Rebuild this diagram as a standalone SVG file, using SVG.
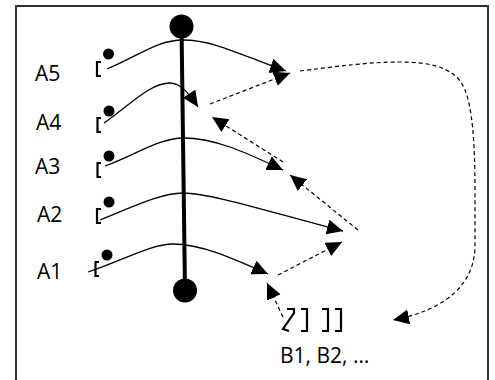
<svg xmlns="http://www.w3.org/2000/svg" width="495" height="380" viewBox="0 0 495 380">
<style>
.lbl{font-family:"Open Sans","Noto Sans","DejaVu Sans",sans-serif;font-size:21px;fill:#000}
.sol{fill:none;stroke:#000;stroke-width:1.3}
.dsh{fill:none;stroke:#000;stroke-width:1.2;stroke-dasharray:4,3}
.br{fill:none;stroke:#000;stroke-width:2.2}
</style>
<defs>
<marker id="ah" markerUnits="userSpaceOnUse" markerWidth="18" markerHeight="16" refX="16" refY="7.5" orient="auto">
<path d="M0,0 L16,7.5 L0,15 z" fill="#000"/>
</marker>
</defs>
<rect width="495" height="380" fill="#fff"/>
<path d="M16,385 V6 H488 V385" fill="none" stroke="#333" stroke-width="2"/>
<g id="axis">
<line x1="181.5" y1="26" x2="185" y2="290" stroke="#000" stroke-width="4"/>
<circle cx="181.5" cy="26.5" r="12" fill="#000"/>
<circle cx="185" cy="290.5" r="12" fill="#000"/>
</g>
<g id="A5"><circle cx="108.5" cy="54" r="5.5"/><path class="br" d="M101,62 H97 V76 H101"/><text class="lbl" x="35" y="81">A5</text></g>
<g id="A4"><circle cx="109" cy="111" r="5.5"/><path class="br" d="M101,118 H97.5 V132 H101"/><text class="lbl" x="36" y="130">A4</text></g>
<g id="A3"><circle cx="109" cy="156" r="5.5"/><path class="br" d="M101,163 H97.5 V177 H101"/><text class="lbl" x="35" y="174">A3</text></g>
<g id="A2"><circle cx="109" cy="202" r="5.5"/><path class="br" d="M101,209 H97 V223 H101"/><text class="lbl" x="37" y="222">A2</text></g>
<g id="A1"><circle cx="107" cy="255" r="5.5"/><path class="br" d="M99,262 H95.5 V276 H99"/><text class="lbl" x="37" y="279">A1</text></g>
<g id="B"><path class="br" d="M287,309 H294 V313 L283,329 L289,331"/><path class="br" d="M301,309 H307 V331 H301"/><path class="br" d="M322,309 H328 V331 H322"/><path class="br" d="M335,309 H341 V331 H335"/><text class="lbl" x="280" y="363">B1, B2, …</text></g>
<g id="connectors">
<path class="sol" marker-end="url(#ah)" d="M107,69 C140,55 158,40 183,40 C215,40 245,57 286,71"/>
<path class="sol" marker-end="url(#ah)" d="M104,123 C130,105 150,83 170,83 C180,83 188,92 198,107"/>
<path class="sol" marker-end="url(#ah)" d="M105,166 C135,155 160,138 183,138 C215,138 245,152 283,170"/>
<path class="sol" marker-end="url(#ah)" d="M100,220 C130,208 160,193 183,193 C210,193 270,212 343,231"/>
<path class="sol" marker-end="url(#ah)" d="M88,272 C120,262 150,244 173,244 C200,244 230,257 268,274"/>
<path class="dsh" marker-end="url(#ah)" d="M283,317 L267,283"/>
<path class="dsh" marker-end="url(#ah)" d="M278,275 L342,242"/>
<path class="dsh" marker-end="url(#ah)" d="M358,230 L290,175"/>
<path class="dsh" marker-end="url(#ah)" d="M283,162 L212,117"/>
<path class="dsh" marker-end="url(#ah)" d="M210,104 L290,73"/>
<path class="dsh" marker-end="url(#ah)" d="M300,71 C340,66 370,62 400,62 C440,62 458,72 465,90 C472,108 475,140 475,190 L475,245 C475,285 445,310 393,320"/>
</g>
</svg>
